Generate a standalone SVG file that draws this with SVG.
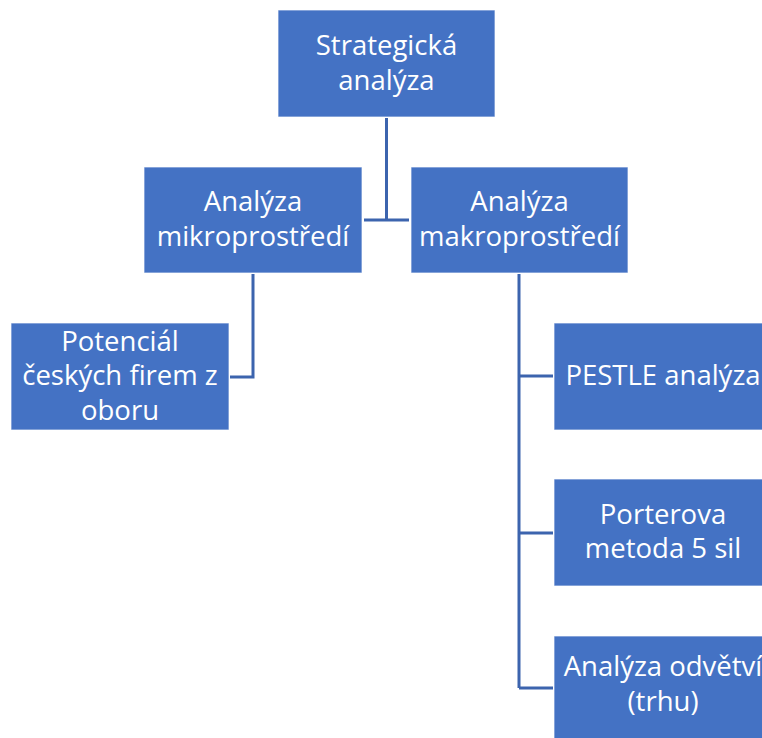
<svg xmlns="http://www.w3.org/2000/svg" width="762" height="738" viewBox="0 0 762 738">
<style>
.box{fill:#4472C4;stroke:#ffffff;stroke-opacity:0.7;stroke-width:1}
.lbl{font-family:"Open Sans","Liberation Sans",sans-serif;font-size:27.5px;fill:#ffffff;text-anchor:middle}
.con{fill:none;stroke:#3C64AE;stroke-width:3}
</style>
<rect width="762" height="738" fill="#ffffff"/>
<g id="connectors">
<path class="con" d="M386.5,118 V220 M364,220 H409"/>
<path class="con" d="M253,274 V377 H230"/>
<path class="con" d="M519,274 V688 M519,376 H553 M519,533 H553 M519,688 H553"/>
</g>
<g id="n-strategicka">
<rect class="box" x="278" y="10" width="217" height="107"/>
<text class="lbl" x="386.5" y="55">Strategická</text>
<text class="lbl" x="386.5" y="90">analýza</text>
</g>
<g id="n-mikro">
<rect class="box" x="144" y="167" width="218" height="106"/>
<text class="lbl" x="253" y="211">Analýza</text>
<text class="lbl" x="253" y="246">mikroprostředí</text>
</g>
<g id="n-makro">
<rect class="box" x="411" y="167" width="217" height="106"/>
<text class="lbl" x="519.5" y="211">Analýza</text>
<text class="lbl" x="519.5" y="246">makroprostředí</text>
</g>
<g id="n-potencial">
<rect class="box" x="11" y="323" width="218" height="107"/>
<text class="lbl" x="120" y="351">Potenciál</text>
<text class="lbl" x="120" y="385">českých firem z</text>
<text class="lbl" x="120" y="420">oboru</text>
</g>
<g id="n-pestle">
<rect class="box" x="554" y="323" width="218" height="107"/>
<text class="lbl" x="663" y="385">PESTLE analýza</text>
</g>
<g id="n-porter">
<rect class="box" x="554" y="479" width="218" height="107"/>
<text class="lbl" x="663" y="524">Porterova</text>
<text class="lbl" x="663" y="558">metoda 5 sil</text>
</g>
<g id="n-odvetvi">
<rect class="box" x="554" y="636" width="218" height="107"/>
<text class="lbl" x="663" y="676">Analýza odvětví</text>
<text class="lbl" x="663" y="711">(trhu)</text>
</g>
</svg>
